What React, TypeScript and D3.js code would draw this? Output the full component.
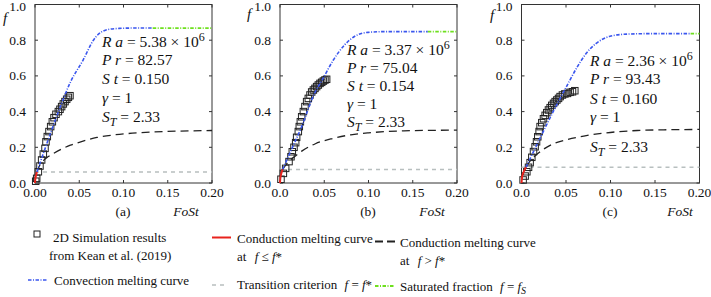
import React from 'react';
import * as d3 from 'd3';

type Pt = [number, number];

const xTickVals = [0, 0.05, 0.1, 0.15, 0.2];
const xTickLabelsA = ['0.00', '0.05', '0.10', '0.15', '0.20'];
const xTickLabelsBC = ['0.0', '0.05', '0.10', '0.15', '0.20'];
const yTickVals = [0, 0.2, 0.4, 0.6, 0.8, 1.0];
const yTickLabels = ['0.0', '0.2', '0.4', '0.6', '0.8', '1.0'];
const panelTags = ['(a)', '(b)', '(c)'];

const raVals = ['5.38', '3.37', '2.36'];
const prVals = ['82.57', '75.04', '93.43'];
const stVals = ['0.150', '0.154', '0.160'];
const gammaVals = ['1', '1', '1'];
const stTVals = ['2.33', '2.33', '2.33'];

const fStar = [0.062, 0.076, 0.088];

// (a)
const simA: Pt[] = [[0.0008, 0.01], [0.0019, 0.026], [0.0038, 0.063], [0.0056, 0.095], [0.0075, 0.129], [0.0094, 0.162], [0.0113, 0.194], [0.0124, 0.231], [0.0139, 0.26], [0.0158, 0.288], [0.0177, 0.316], [0.0196, 0.343], [0.0215, 0.366], [0.0237, 0.385], [0.0264, 0.4], [0.0282, 0.413], [0.0301, 0.428], [0.032, 0.443], [0.0339, 0.456], [0.0358, 0.469], [0.0377, 0.48], [0.0395, 0.489]];
const redA: Pt[] = [[0, 0], [0.0003, 0.02], [0.0008, 0.035], [0.0015, 0.05], [0.0022, 0.062]];
const convA: Pt[] = [[0.0022, 0.062], [0.0124, 0.207], [0.0264, 0.398], [0.04, 0.565], [0.0545, 0.69], [0.066, 0.8], [0.072, 0.835], [0.078, 0.853], [0.085, 0.862], [0.095, 0.866], [0.11, 0.868], [0.133, 0.868]];
const condA: Pt[] = [[0.0022, 0.062], [0.006, 0.105], [0.01, 0.128], [0.015, 0.148], [0.02, 0.163], [0.03, 0.19], [0.04, 0.212], [0.05, 0.228], [0.07, 0.255], [0.09, 0.27], [0.11, 0.279], [0.13, 0.285], [0.15, 0.289], [0.175, 0.292], [0.2, 0.294]];
const satA: Pt[] = [[0.133, 0.868], [0.2, 0.868]];

// (b)
const simB: Pt[] = [[0.0011, 0.021], [0.0038, 0.054], [0.0064, 0.082], [0.0102, 0.12], [0.0124, 0.147], [0.0139, 0.175], [0.0158, 0.2], [0.0177, 0.226], [0.0188, 0.256], [0.0207, 0.288], [0.0218, 0.316], [0.023, 0.343], [0.0245, 0.371], [0.0264, 0.4], [0.0282, 0.428], [0.0301, 0.456], [0.032, 0.474], [0.0339, 0.493], [0.0358, 0.51], [0.0377, 0.521], [0.0395, 0.53], [0.0414, 0.54], [0.0433, 0.549], [0.0452, 0.558], [0.0471, 0.564], [0.049, 0.571], [0.0508, 0.577], [0.0527, 0.581]];
const redB: Pt[] = [[0, 0], [0.0004, 0.028], [0.001, 0.044], [0.002, 0.062], [0.003, 0.076]];
const convB: Pt[] = [[0.003, 0.076], [0.01, 0.155], [0.0245, 0.316], [0.0388, 0.5], [0.048, 0.58], [0.0603, 0.689], [0.0733, 0.775], [0.0846, 0.822], [0.0996, 0.844], [0.118, 0.848], [0.167, 0.848]];
const condB: Pt[] = [[0.003, 0.076], [0.008, 0.11], [0.012, 0.13], [0.017, 0.15], [0.025, 0.18], [0.04, 0.22], [0.06, 0.25], [0.08, 0.27], [0.1, 0.281], [0.12, 0.288], [0.14, 0.292], [0.17, 0.295], [0.2, 0.296]];
const satB: Pt[] = [[0.167, 0.848], [0.2, 0.848]];

// (c)
const simC: Pt[] = [[0.0018, 0.017], [0.0041, 0.039], [0.006, 0.063], [0.0079, 0.088], [0.0097, 0.114], [0.0116, 0.144], [0.0135, 0.176], [0.0153, 0.203], [0.0169, 0.231], [0.0183, 0.259], [0.0198, 0.288], [0.0209, 0.316], [0.0228, 0.338], [0.0247, 0.36], [0.0266, 0.379], [0.0284, 0.394], [0.0303, 0.409], [0.0322, 0.422], [0.034, 0.435], [0.036, 0.446], [0.0378, 0.456], [0.0397, 0.465], [0.0416, 0.474], [0.0434, 0.484], [0.046, 0.493], [0.0487, 0.499], [0.0517, 0.502], [0.0546, 0.508], [0.0573, 0.511], [0.0599, 0.517]];
const redC: Pt[] = [[0, 0], [0.0005, 0.028], [0.0015, 0.05], [0.003, 0.068], [0.005, 0.088]];
const convC: Pt[] = [[0.005, 0.088], [0.0217, 0.26], [0.0404, 0.446], [0.05, 0.535], [0.062, 0.645], [0.073, 0.728], [0.0844, 0.784], [0.0994, 0.822], [0.118, 0.834], [0.148, 0.837], [0.19, 0.837]];
const condC: Pt[] = [[0.005, 0.088], [0.01, 0.125], [0.016, 0.155], [0.025, 0.19], [0.035, 0.218], [0.05, 0.242], [0.07, 0.263], [0.09, 0.278], [0.11, 0.288], [0.13, 0.294], [0.16, 0.298], [0.2, 0.3]];
const satC: Pt[] = [[0.19, 0.837], [0.2, 0.837]];

const FONT = "'Liberation Serif', 'Times New Roman', serif";
const ts = { fontFamily: FONT };
const BLUE = '#3a56ee';
const RED = '#e8231d';
const GREEN = '#6ee01e';
const GREY = '#b8bfbf';
const DASHDOT = '3.5,1.5,1,1.5';

const panels = [
  { x0: 35, x1: 212, sim: simA, red: redA, conv: convA, cond: condA, sat: satA, xLabels: xTickLabelsA, fx: 3, fy: 23, tx: 102, ty: [47, 65, 84, 103, 122], tagX: 123, foX: 186 },
  { x0: 280, x1: 457, sim: simB, red: redB, conv: convB, cond: condB, sat: satB, xLabels: xTickLabelsBC, fx: 247, fy: 19, tx: 347, ty: [55, 73, 91, 109, 127], tagX: 368, foX: 432 },
  { x0: 521.5, x1: 699.5, sim: simC, red: redC, conv: convC, cond: condC, sat: satC, xLabels: xTickLabelsBC, fx: 490, fy: 20, tx: 590, ty: [66, 84, 104, 122, 152], tagX: 610, foX: 680 },
];

const Y0 = 183;
const Y1 = 4.5;

function Panel({ p, i }: { p: typeof panels[number]; i: number }) {
  const x = d3.scaleLinear().domain([0, 0.2]).range([p.x0, p.x1]);
  const y = d3.scaleLinear().domain([0, 1]).range([Y0, Y1]);
  const line = d3.line<Pt>().x(d => x(d[0])).y(d => y(d[1])).curve(d3.curveMonotoneX);
  const tk = 3;
  const sz = 6.5;
  return (
    <g>
      <rect x={p.x0} y={Y1} width={p.x1 - p.x0} height={Y0 - Y1} fill="none" stroke="#333" strokeWidth={1} />
      {xTickVals.map((v, j) => (
        <g key={'x' + j}>
          <line x1={x(v)} x2={x(v)} y1={Y0} y2={Y0 - tk} stroke="#333" />
          <line x1={x(v)} x2={x(v)} y1={Y1} y2={Y1 + tk} stroke="#333" />
          <text style={ts} x={x(v)} y={197} textAnchor="middle" fontSize={13.5}>{p.xLabels[j]}</text>
        </g>
      ))}
      {yTickVals.map((v, j) => (
        <g key={'y' + j}>
          <line x1={p.x0} x2={p.x0 + tk} y1={y(v)} y2={y(v)} stroke="#333" />
          <line x1={p.x1} x2={p.x1 - tk} y1={y(v)} y2={y(v)} stroke="#333" />
          <text style={ts} x={p.x0 - 9} y={Math.max(y(v) + 4.5, 11)} textAnchor="end" fontSize={13.5}>{yTickLabels[j]}</text>
        </g>
      ))}
      <text style={ts} x={p.fx} y={p.fy} fontSize={15} fontStyle="italic">f</text>
      <text style={ts} x={p.tagX} y={216} textAnchor="middle" fontSize={13.5}>{panelTags[i]}</text>
      <text style={ts} x={p.foX} y={216} textAnchor="middle" fontSize={13.5} fontStyle="italic">FoSt</text>

      <line x1={x(0)} x2={x(0.2)} y1={y(fStar[i])} y2={y(fStar[i])} stroke={GREY} strokeWidth={1.5} strokeDasharray="4,4" />
      <path d={line(p.cond) || ''} fill="none" stroke="#222" strokeWidth={1.3} strokeDasharray="8,5" />
      {p.sim.map((d, j) => (
        <rect key={'s' + j} x={x(d[0]) - sz / 2} y={y(d[1]) - sz / 2} width={sz} height={sz} fill="none" stroke="#222" strokeWidth={1} />
      ))}
      <path d={line(p.conv) || ''} fill="none" stroke={BLUE} strokeWidth={1.6} strokeDasharray={DASHDOT} />
      <path d={line(p.sat) || ''} fill="none" stroke={GREEN} strokeWidth={1.8} strokeDasharray={DASHDOT} />
      <path d={line(p.red) || ''} fill="none" stroke={RED} strokeWidth={2} />

      <g fontSize={15.5}>
        <text style={ts} x={p.tx} y={p.ty[0]}>
          <tspan fontStyle="italic">R a</tspan> = {raVals[i]} × 10<tspan dy={-6} fontSize={12}>6</tspan>
        </text>
        <text style={ts} x={p.tx} y={p.ty[1]}><tspan fontStyle="italic">P r</tspan> = {prVals[i]}</text>
        <text style={ts} x={p.tx} y={p.ty[2]}><tspan fontStyle="italic">S t</tspan> = {stVals[i]}</text>
        <text style={ts} x={p.tx} y={p.ty[3]}><tspan fontStyle="italic">γ</tspan> = {gammaVals[i]}</text>
        <text style={ts} x={p.tx} y={p.ty[4]}>
          <tspan fontStyle="italic">S</tspan><tspan fontStyle="italic" fontSize={12} dy={4}>T</tspan><tspan dy={-4}> = {stTVals[i]}</tspan>
        </text>
      </g>
    </g>
  );
}

export default function App() {
  return (
    <svg width={711} height={297} style={{ position: 'absolute', left: 0, top: 0, background: '#fff' }} fill="#111">
      {panels.map((p, i) => <Panel key={i} p={p} i={i} />)}

      {/* legend */}
      <g fontSize={13}>
        <rect x={34} y={231} width={6} height={6} fill="none" stroke="#222" />
        <text style={ts} x={53} y={242}>2D Simulation results</text>
        <text style={ts} x={49} y={260}>from Kean et al. (2019)</text>
        <line x1={28} x2={48} y1={280} y2={280} stroke={BLUE} strokeWidth={1.6} strokeDasharray={DASHDOT} />
        <text style={ts} x={54} y={285}>Convection melting curve</text>

        <line x1={212} x2={231} y1={237.5} y2={237.5} stroke={RED} strokeWidth={2} />
        <text style={ts} x={237} y={243}>Conduction melting curve</text>
        <text style={ts} x={237} y={261}>at <tspan fontStyle="italic" dx={5}>f</tspan> ≤ <tspan fontStyle="italic">f</tspan>*</text>
        <line x1={212} x2={228} y1={285} y2={285} stroke={GREY} strokeWidth={1.5} strokeDasharray="4,4" />
        <text style={ts} x={237} y={289}>Transition criterion <tspan fontStyle="italic" dx={4}>f</tspan> = <tspan fontStyle="italic">f</tspan>*</text>

        <line x1={375} x2={395} y1={241.5} y2={241.5} stroke="#222" strokeWidth={2} strokeDasharray="8,4" />
        <text style={ts} x={400} y={247}>Conduction melting curve</text>
        <text style={ts} x={400} y={265}>at <tspan fontStyle="italic" dx={5}>f</tspan> &gt; <tspan fontStyle="italic">f</tspan>*</text>
        <line x1={375} x2={395} y1={286} y2={286} stroke={GREEN} strokeWidth={1.8} strokeDasharray={DASHDOT} />
        <text style={ts} x={400} y={291}>Saturated fraction <tspan fontStyle="italic" dx={4}>f</tspan> = <tspan fontStyle="italic">f</tspan><tspan fontStyle="italic" fontSize={10} dy={3}>S</tspan></text>
      </g>
    </svg>
  );
}
